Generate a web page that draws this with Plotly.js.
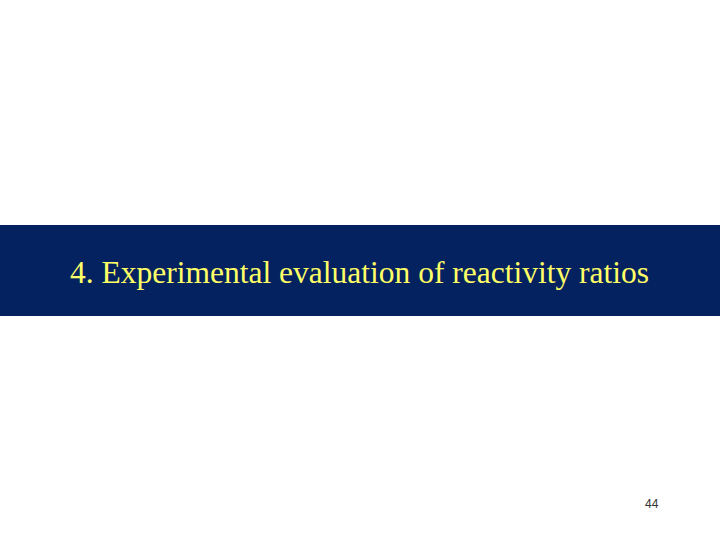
<!DOCTYPE html>
<html>
<head>
<meta charset="utf-8">
<script src="https://cdn.plot.ly/plotly-3.0.1.min.js"></script>
<style>
  html, body { margin: 0; padding: 0; background: #ffffff; }
  #slide { width: 720px; height: 540px; }
</style>
</head>
<body>
<div id="slide"></div>
<script>
// slide texts
var titleText = ["4. Experimental evaluation of reactivity ratios"];
var pageNumber = ["44"];

// band extent (slide pixels, top / bottom)
var bandTop = [225];
var bandBottom = [316];

var layout = {
	width: 720,
	height: 540,
	margin: {t: 0, b: 0, l: 0, r: 0},
	paper_bgcolor: '#ffffff',
	plot_bgcolor: '#ffffff',
	showlegend: false,
	xaxis: { range: [0, 720], visible: false, fixedrange: true },
	yaxis: { range: [540, 0], visible: false, fixedrange: true },
	shapes: [{
		type: 'rect',
		xref: 'paper', yref: 'y',
		x0: 0, x1: 1,
		y0: bandTop[0], y1: bandBottom[0],
		fillcolor: '#03225f',
		line: { width: 0 },
		layer: 'below'
	}],
	annotations: [
		{
			text: titleText[0],
			xref: 'x', yref: 'y',
			x: 359, y: 272,
			showarrow: false,
			xanchor: 'center', yanchor: 'middle',
			font: { family: 'Liberation Serif, Times New Roman, serif', size: 31.5, color: '#ffff66' }
		},
		{
			text: pageNumber[0],
			xref: 'x', yref: 'y',
			x: 652, y: 504,
			showarrow: false,
			xanchor: 'center', yanchor: 'middle',
			font: { family: 'Liberation Sans, Arial, sans-serif', size: 12, color: '#333333' }
		}
	]
};

Plotly.newPlot('slide', [], layout, { displayModeBar: false, staticPlot: true });
</script>
</body>
</html>
